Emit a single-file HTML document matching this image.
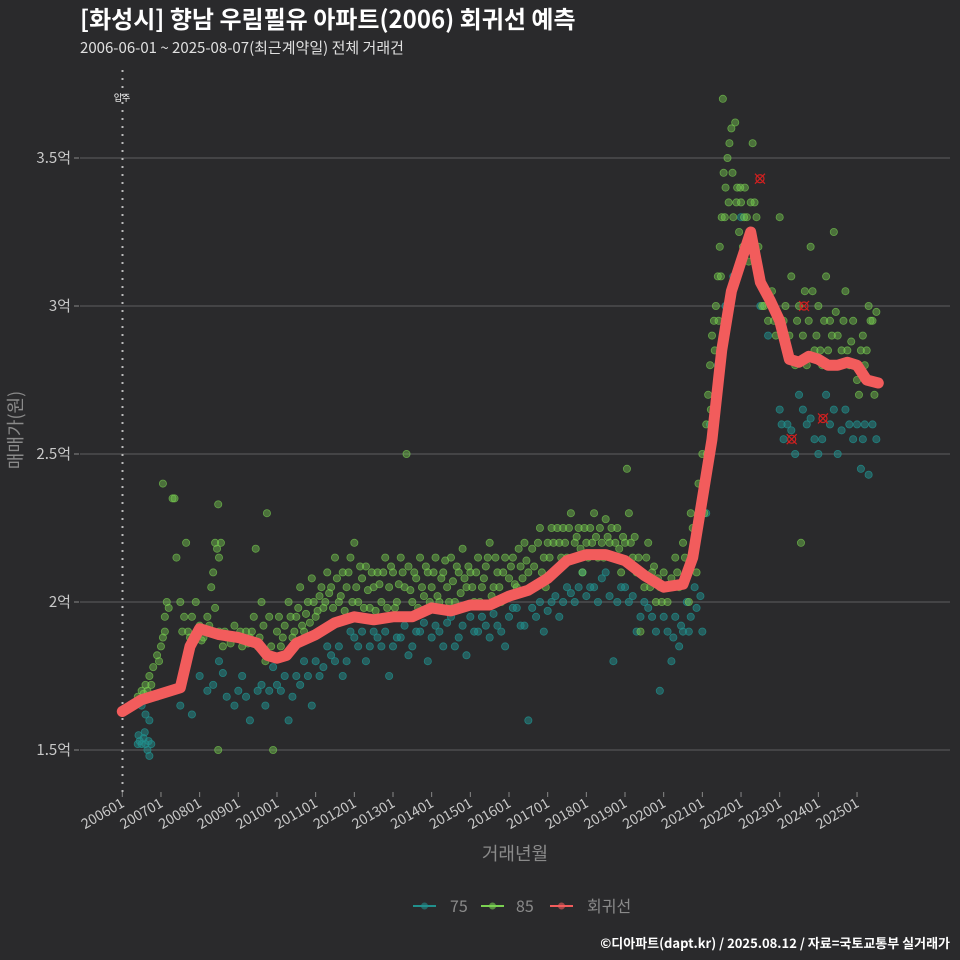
<!DOCTYPE html>
<html><head><meta charset="utf-8">
<style>
html,body{margin:0;padding:0;background:#2a2a2c;}
svg{display:block;font-family:"Noto Sans CJK KR","Liberation Sans",sans-serif;}
</style></head>
<body>
<svg id="chart" width="960" height="960" viewBox="0 0 960 960">
<rect x="0" y="0" width="960" height="960" fill="#2a2a2c"/>
<text x="80" y="28" font-size="24" font-weight="bold" fill="#ffffff">[화성시] 향남 우림필유 아파트(2006) 회귀선 예측</text>
<text x="80" y="53" font-size="15" fill="#e0e0e0">2006-06-01 ~ 2025-08-07(최근계약일) 전체 거래건</text>
<g id="grid"></g>
<g id="yticks"></g>
<g id="xticks"></g>
<line x1="122.5" y1="70" x2="122.5" y2="795" stroke="#bbbbbb" stroke-width="2" stroke-dasharray="2,6"/>
<text x="122" y="101" font-size="9" fill="#ffffff" text-anchor="middle">입주</text>
<g id="pts75"></g>
<g id="pts85"></g>
<path id="reg" fill="none" stroke="#f25c5c" stroke-width="11" stroke-linejoin="round" stroke-linecap="round"/>
<g id="marks"></g>
<text x="515" y="860" font-size="18" fill="#8a8a8a" text-anchor="middle">거래년월</text>
<text transform="translate(22,430) rotate(-90)" font-size="18" fill="#8a8a8a" text-anchor="middle">매매가(원)</text>
<g>
<g><line x1="413" y1="906" x2="436" y2="906" stroke="#21908d" stroke-width="2"/><circle cx="424.5" cy="906" r="3.5" fill="#21908d" opacity="0.6"/><text x="450" y="912" font-size="16" fill="#8a8a8a">75</text></g>
<g><line x1="481" y1="906" x2="504" y2="906" stroke="#7ad151" stroke-width="2"/><circle cx="492.5" cy="906" r="3.5" fill="#7ad151" opacity="0.6"/><text x="516" y="912" font-size="16" fill="#8a8a8a">85</text></g>
<g><line x1="550" y1="906" x2="573" y2="906" stroke="#f25c5c" stroke-width="2"/><circle cx="561.5" cy="906" r="3.5" fill="#f25c5c" opacity="0.6"/><text x="587" y="912" font-size="16" fill="#8a8a8a">회귀선</text></g>
</g>
<text x="950" y="948" font-size="13" font-weight="bold" fill="#ffffff" text-anchor="end">©디아파트(dapt.kr) / 2025.08.12 / 자료=국토교통부 실거래가</text>
</svg>
<script>
const yTicks=[1.5,2,2.5,3,3.5];
const yTickLabels=["1.5억","2억","2.5억","3억","3.5억"];
const xTickYears=[2006,2007,2008,2009,2010,2011,2012,2013,2014,2015,2016,2017,2018,2019,2020,2021,2022,2023,2024,2025];
const xTickLabels=["200601","200701","200801","200901","201001","201101","201201","201301","201401","201501","201601","201701","201801","201901","202001","202101","202201","202301","202401","202501"];
const regT=[2006.0,2006.5,2007.0,2007.5,2007.75,2008.0,2008.5,2009.0,2009.5,2009.75,2010.0,2010.25,2010.5,2011.0,2011.5,2012.0,2012.5,2013.0,2013.5,2014.0,2014.5,2015.0,2015.5,2016.0,2016.5,2017.0,2017.5,2018.0,2018.5,2019.0,2019.5,2020.0,2020.5,2020.75,2021.0,2021.25,2021.5,2021.75,2022.0,2022.25,2022.5,2022.75,2023.0,2023.25,2023.5,2023.75,2024.0,2024.25,2024.5,2024.75,2025.0,2025.25,2025.55];
const regV=[1.63,1.67,1.69,1.71,1.85,1.91,1.89,1.88,1.86,1.82,1.81,1.82,1.86,1.89,1.93,1.95,1.94,1.95,1.95,1.98,1.97,1.99,1.99,2.02,2.04,2.08,2.14,2.16,2.16,2.14,2.09,2.05,2.06,2.15,2.35,2.55,2.85,3.05,3.15,3.25,3.08,3.02,2.95,2.82,2.81,2.83,2.82,2.80,2.80,2.81,2.80,2.75,2.74];
const s85=[[2006.4,1.68],[2006.5,1.70],[2006.6,1.72],[2006.7,1.75],[2006.8,1.78],[2006.9,1.82],[2007.0,1.85],[2007.05,1.88],[2007.1,1.95],[2007.15,2.0],[2007.05,2.40],[2007.3,2.35],[2007.35,2.35],[2007.4,2.15],[2007.5,2.0],[2007.6,1.95],[2007.7,1.9],[2007.65,2.2],[2007.8,1.95],[2007.9,2.0],[2008.0,1.92],[2008.1,1.88],[2008.2,1.95],[2008.3,2.05],[2008.35,2.1],[2008.4,2.2],[2008.45,2.18],[2008.5,2.15],[2008.48,2.33],[2008.55,2.2],[2008.5,1.9],[2008.6,1.85],[2008.48,1.5],[2008.7,1.88],[2008.9,1.92],[2009.0,1.88],[2009.1,1.85],[2009.2,1.9],[2009.3,1.88],[2009.4,1.95],[2009.45,2.18],[2009.5,1.85],[2009.6,2.0],[2009.7,1.8],[2009.74,2.3],[2009.8,1.95],[2009.9,1.5],[2010.0,1.9],[2010.1,1.85],[2010.2,1.92],[2010.3,2.0],[2010.4,1.88],[2010.5,1.95],[2010.6,2.05],[2010.7,1.9],[2010.8,2.0],[2010.9,2.08],[2011.0,1.95],[2011.1,2.02],[2011.2,1.98],[2011.3,2.1],[2011.4,2.05],[2011.5,2.15],[2011.6,2.0],[2011.7,2.1],[2011.8,2.05],[2011.9,2.15],[2012.0,2.2],[2012.1,2.0],[2012.2,2.08],[2012.3,2.12],[2012.4,1.98],[2012.5,2.05],[2012.6,2.1],[2012.7,2.0],[2012.8,2.15],[2012.9,2.05],[2013.0,2.1],[2013.1,2.0],[2013.2,2.15],[2013.3,2.05],[2013.35,2.5],[2013.4,2.12],[2013.5,2.0],[2013.6,2.08],[2013.7,2.15],[2013.8,2.02],[2013.9,2.1],[2014.0,2.05],[2014.1,2.15],[2014.2,2.0],[2014.3,2.1],[2014.4,2.05],[2014.5,2.15],[2014.6,2.0],[2014.7,2.1],[2014.8,2.18],[2014.9,2.05],[2015.0,2.1],[2015.1,2.0],[2015.2,2.15],[2015.3,2.05],[2015.4,2.12],[2015.5,2.2],[2015.6,2.05],[2015.7,2.1],[2015.8,2.0],[2015.9,2.15],[2016.0,2.08],[2016.1,2.15],[2016.2,2.05],[2016.3,2.12],[2016.4,2.2],[2016.5,2.1],[2016.6,2.18],[2016.7,2.05],[2016.8,2.25],[2016.9,2.15],[2017.0,2.2],[2017.1,2.25],[2017.2,2.1],[2017.3,2.2],[2017.4,2.25],[2017.5,2.15],[2017.6,2.3],[2017.7,2.2],[2017.8,2.25],[2017.9,2.1],[2018.0,2.2],[2018.1,2.25],[2018.2,2.3],[2018.3,2.15],[2018.4,2.2],[2018.5,2.28],[2018.6,2.2],[2018.7,2.15],[2018.8,2.25],[2018.9,2.1],[2019.0,2.2],[2019.05,2.45],[2019.1,2.3],[2019.2,2.15],[2019.3,2.1],[2019.4,1.9],[2019.5,2.05],[2019.6,2.2],[2019.7,2.1],[2019.8,2.0],[2019.9,2.05],[2020.0,2.1],[2020.1,2.0],[2020.2,2.08],[2020.3,2.15],[2020.4,2.05],[2020.5,2.2],[2020.6,2.1],[2020.7,2.3],[2020.8,2.2],[2020.9,2.4],[2021.0,2.5],[2021.05,2.3],[2021.1,2.6],[2021.15,2.7],[2021.2,2.8],[2021.25,2.9],[2021.3,2.95],[2021.35,3.0],[2021.4,3.1],[2021.45,3.2],[2021.5,3.3],[2021.53,3.7],[2021.55,3.45],[2021.6,3.4],[2021.65,3.5],[2021.7,3.55],[2021.75,3.6],[2021.8,3.3],[2021.85,3.62],[2021.9,3.4],[2021.95,3.25],[2022.0,3.35],[2022.05,3.2],[2022.1,3.4],[2022.15,3.3],[2022.2,3.15],[2022.3,3.55],[2022.35,3.35],[2022.4,3.3],[2022.5,3.1],[2022.6,3.0],[2022.7,2.95],[2022.8,3.05],[2022.9,2.9],[2023.0,3.3],[2023.1,2.95],[2023.2,2.85],[2023.3,3.1],[2023.4,2.8],[2023.5,3.0],[2023.55,2.2],[2023.6,2.9],[2023.7,2.8],[2023.8,3.2],[2023.85,3.05],[2023.9,2.85],[2024.0,3.0],[2024.1,2.8],[2024.2,3.1],[2024.3,2.95],[2024.4,3.25],[2024.5,2.9],[2024.6,2.85],[2024.7,3.05],[2024.8,2.8],[2024.9,2.95],[2025.0,2.75],[2025.1,2.85],[2025.2,2.8],[2025.3,3.0],[2025.4,2.95],[2025.45,2.7]];
const s85b=[[2006.55,1.69],[2006.65,1.7],[2006.75,1.72],[2006.95,1.8],[2007.1,1.9],[2007.2,1.98],[2007.55,1.9],[2007.75,1.88],[2008.05,1.87],[2008.25,1.92],[2008.4,1.98],[2008.65,1.9],[2008.8,1.86],[2009.05,1.9],[2009.25,1.86],[2009.35,1.9],[2009.55,1.88],[2009.65,1.92],[2009.85,1.85],[2010.05,1.95],[2010.15,1.88],[2010.35,1.95],[2010.45,1.9],[2010.55,1.98],[2010.65,1.92],[2010.75,1.96],[2010.85,1.93],[2010.95,2.0],[2011.05,1.97],[2011.15,2.05],[2011.25,2.0],[2011.35,2.03],[2011.45,1.98],[2011.55,2.08],[2011.65,2.02],[2011.75,1.97],[2011.85,2.1],[2011.95,2.0],[2012.05,2.05],[2012.15,2.12],[2012.25,1.98],[2012.35,2.04],[2012.45,2.1],[2012.55,1.97],[2012.65,2.06],[2012.75,2.1],[2012.85,1.98],[2012.95,2.12],[2013.05,1.98],[2013.15,2.06],[2013.25,2.1],[2013.45,2.04],[2013.55,2.1],[2013.65,1.98],[2013.75,2.05],[2013.85,2.12],[2013.95,2.0],[2014.05,2.1],[2014.15,2.02],[2014.25,2.08],[2014.35,2.14],[2014.45,2.0],[2014.55,2.07],[2014.65,2.12],[2014.75,2.03],[2014.85,2.08],[2014.95,2.12],[2015.05,2.05],[2015.15,2.1],[2015.25,2.0],[2015.35,2.08],[2015.45,2.15],[2015.55,2.02],[2015.65,2.15],[2015.75,2.05],[2015.85,2.1],[2015.95,2.02],[2016.05,2.12],[2016.15,2.06],[2016.25,2.18],[2016.35,2.08],[2016.45,2.14],[2016.55,2.05],[2016.65,2.12],[2016.75,2.2],[2016.85,2.1],[2016.95,2.05],[2017.05,2.15],[2017.15,2.2],[2017.25,2.25],[2017.35,2.15],[2017.45,2.2],[2017.55,2.25],[2017.65,2.15],[2017.75,2.22],[2017.85,2.18],[2017.95,2.25],[2018.05,2.15],[2018.15,2.2],[2018.25,2.22],[2018.35,2.25],[2018.45,2.15],[2018.55,2.22],[2018.65,2.25],[2018.75,2.2],[2018.85,2.18],[2018.95,2.22],[2019.15,2.2],[2019.25,2.22],[2019.35,2.15],[2019.45,2.1],[2019.55,2.15],[2019.65,2.05],[2019.75,2.12],[2019.85,2.08],[2019.95,2.0],[2020.15,2.05],[2020.35,2.1],[2020.55,2.15],[2020.65,2.0],[2020.75,2.25],[2020.85,2.1],[2020.95,2.3],[2021.02,2.4],[2021.12,2.5],[2021.22,2.65],[2021.32,2.85],[2021.42,2.95],[2021.48,3.1],[2021.58,3.3],[2021.68,3.35],[2021.78,3.45],[2021.88,3.35],[2021.98,3.4],[2022.08,3.3],[2022.25,3.35],[2022.45,3.2],[2022.55,3.0],[2022.65,3.05],[2022.85,2.95],[2023.05,2.9],[2023.15,3.0],[2023.25,2.9],[2023.45,2.95],[2023.65,3.05],[2023.75,2.95],[2023.95,2.9],[2024.05,2.85],[2024.15,2.95],[2024.25,2.85],[2024.35,2.9],[2024.45,2.98],[2024.55,2.8],[2024.65,2.95],[2024.75,2.85],[2024.85,2.88],[2024.95,2.8],[2025.05,2.7],[2025.15,2.9],[2025.25,2.85],[2025.35,2.95],[2025.5,2.98]];
const s75=[[2006.4,1.52],[2006.45,1.53],[2006.5,1.52],[2006.55,1.54],[2006.6,1.52],[2006.65,1.5],[2006.7,1.48],[2006.75,1.52],[2006.5,1.65],[2006.7,1.6],[2006.9,1.68],[2007.2,1.7],[2007.5,1.65],[2007.8,1.62],[2008.0,1.75],[2008.2,1.7],[2008.5,1.8],[2008.7,1.68],[2008.9,1.65],[2009.1,1.75],[2009.3,1.6],[2009.5,1.7],[2009.7,1.65],[2009.9,1.78],[2010.1,1.7],[2010.3,1.6],[2010.5,1.75],[2010.7,1.8],[2010.9,1.65],[2011.1,1.75],[2011.3,1.85],[2011.5,1.8],[2011.7,1.75],[2011.9,1.9],[2012.1,1.85],[2012.3,1.8],[2012.5,1.9],[2012.7,1.85],[2012.9,1.75],[2013.1,1.88],[2013.3,1.92],[2013.5,1.85],[2013.7,1.9],[2013.9,1.8],[2014.1,1.92],[2014.3,1.85],[2014.5,1.95],[2014.7,1.88],[2014.9,1.82],[2015.1,1.9],[2015.3,1.95],[2015.5,1.88],[2015.7,1.92],[2015.9,1.85],[2016.1,1.98],[2016.3,1.92],[2016.5,1.6],[2016.7,1.95],[2016.9,1.9],[2017.1,2.0],[2017.3,1.95],[2017.5,2.05],[2017.7,2.0],[2017.9,2.1],[2018.1,2.05],[2018.3,2.0],[2018.5,2.1],[2018.7,1.8],[2018.9,2.05],[2019.1,2.0],[2019.3,1.9],[2019.5,2.0],[2019.7,1.95],[2019.9,1.7],[2020.1,1.9],[2020.2,1.8],[2020.3,1.95],[2020.4,1.85],[2020.5,1.9],[2020.6,2.0],[2020.7,1.95],[2020.8,2.05],[2021.0,1.9],[2021.1,2.3],[2021.2,2.6],[2021.4,2.8],[2021.6,3.0],[2021.8,3.1],[2022.0,3.3],[2022.2,3.2],[2022.5,3.0],[2022.7,2.9],[2023.0,2.65],[2023.1,2.55],[2023.2,2.6],[2023.4,2.5],[2023.5,2.7],[2023.7,2.6],[2023.9,2.55],[2024.0,2.5],[2024.2,2.7],[2024.3,2.6],[2024.5,2.5],[2024.7,2.65],[2024.9,2.55],[2025.0,2.6],[2025.1,2.45],[2025.2,2.6],[2025.3,2.43],[2025.4,2.6],[2025.5,2.55]];
const s75b=[[2006.42,1.55],[2006.58,1.56],[2006.68,1.53],[2006.6,1.62],[2008.35,1.72],[2008.6,1.76],[2009.0,1.7],[2009.2,1.68],[2009.6,1.72],[2009.8,1.7],[2010.0,1.72],[2010.2,1.75],[2010.4,1.68],[2010.6,1.72],[2010.8,1.75],[2011.0,1.8],[2011.2,1.78],[2011.4,1.82],[2011.6,1.85],[2011.8,1.8],[2012.0,1.88],[2012.2,1.9],[2012.4,1.85],[2012.6,1.88],[2012.8,1.9],[2013.0,1.85],[2013.2,1.88],[2013.4,1.82],[2013.6,1.9],[2013.8,1.93],[2014.0,1.88],[2014.2,1.9],[2014.4,1.93],[2014.6,1.85],[2014.8,1.92],[2015.0,1.95],[2015.2,1.9],[2015.4,1.92],[2015.6,1.96],[2015.8,1.9],[2016.0,1.95],[2016.2,1.98],[2016.4,1.92],[2016.6,1.98],[2016.8,2.0],[2017.0,1.97],[2017.2,2.02],[2017.4,2.0],[2017.6,2.03],[2017.8,2.05],[2018.0,2.02],[2018.2,2.05],[2018.4,2.08],[2018.6,2.02],[2018.8,2.0],[2019.0,2.05],[2019.2,2.02],[2019.4,1.95],[2019.6,1.98],[2019.8,1.9],[2020.0,1.95],[2020.25,1.88],[2020.45,1.92],[2020.65,1.9],[2020.85,1.98],[2020.95,2.02],[2023.05,2.6],[2023.3,2.58],[2023.6,2.65],[2023.8,2.62],[2024.1,2.55],[2024.4,2.65],[2024.6,2.58],[2024.8,2.6],[2025.15,2.55]];
const markT=[2022.49,2023.63,2023.31,2024.12];
const markV=[3.43,3.0,2.55,2.62];

const NS="http://www.w3.org/2000/svg";
function xs(t){return 122.3+(t-2006)*38.67;}
function ys(v){return 602-(v-2)*296;}
function mk(tag,attrs,parent){const e=document.createElementNS(NS,tag);for(const k in attrs)e.setAttribute(k,attrs[k]);parent.appendChild(e);return e;}

const grid=document.getElementById('grid'),yt=document.getElementById('yticks'),xt=document.getElementById('xticks');
yTicks.forEach((v,i)=>{
  const l=mk('line',{x1:80,x2:950,y1:ys(v),y2:ys(v),stroke:'#5e5e60','stroke-width':1},grid);
  
  
  const tk=mk('line',{x1:74,x2:79,y1:ys(v),y2:ys(v),stroke:'#888','stroke-width':1},yt);
  
  
  const t=mk('text',{x:71,y:ys(v)+5,'font-size':15,fill:'#c8c8c8','text-anchor':'end'},yt);
  t.textContent=yTickLabels[i];
  
  
});
xTickYears.forEach((yr,i)=>{
  const x=xs(yr);
  const tk=mk('line',{x1:x,x2:x,y1:792,y2:797,stroke:'#888','stroke-width':1},xt);
  
  
  const t=mk('text',{transform:`translate(${x+3},${806}) rotate(-30)`,'font-size':14,fill:'#c8c8c8','text-anchor':'end'},xt);
  t.textContent=xTickLabels[i];
  
  
});
const g75=document.getElementById('pts75');
s75.concat(s75b).forEach(p=>{
  const c=mk('circle',{cx:xs(p[0]),cy:ys(p[1]),r:3.6,fill:'#21908d','fill-opacity':0.5,stroke:'#21908d','stroke-opacity':0.8,'stroke-width':0.8},g75);
  
  
});
const g85=document.getElementById('pts85');
s85.concat(s85b).forEach(p=>{
  const c=mk('circle',{cx:xs(p[0]),cy:ys(p[1]),r:3.6,fill:'#7ad151','fill-opacity':0.42,stroke:'#7ad151','stroke-opacity':0.65,'stroke-width':0.8},g85);
  
  
});
let d='';
regT.forEach((t,i)=>{d+=(i?'L':'M')+xs(t).toFixed(1)+','+ys(regV[i]).toFixed(1);});
document.getElementById('reg').setAttribute('d',d);
const gm=document.getElementById('marks');
markT.forEach((t,i)=>{
  const x=xs(t),y=ys(markV[i]);
  const g=mk('g',{},gm);
  
  
  mk('circle',{cx:x,cy:y,r:4,fill:'none',stroke:'#d02020','stroke-width':1.2},g);
  mk('path',{d:`M${x-5},${y-5}L${x+5},${y+5}M${x-5},${y+5}L${x+5},${y-5}`,stroke:'#d02020','stroke-width':1.2},g);
});
</script>
</body></html>
